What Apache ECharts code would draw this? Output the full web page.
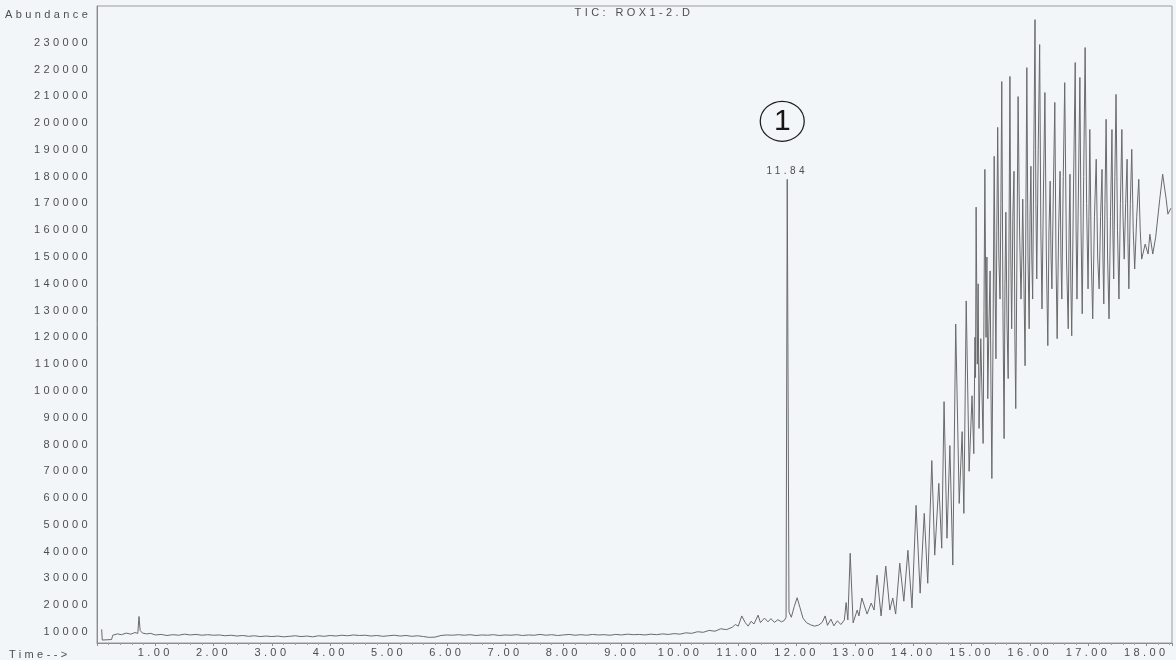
<!DOCTYPE html>
<html>
<head>
<meta charset="utf-8">
<script src="https://cdn.jsdelivr.net/npm/echarts@6/dist/echarts.min.js"></script>
<style>
  html, body { margin: 0; padding: 0; background: #f2f6f9; }
  #chart { width: 1176px; height: 660px; }
</style>
</head>
<body>
<div id="chart"></div>
<script>
// Report-style small print: widen the tracking of the small labels.
(function () {
  var proto = CanvasRenderingContext2D.prototype;
  if (!('letterSpacing' in proto)) return;
  var fill = proto.fillText;
  proto.fillText = function () {
    this.letterSpacing = /(^|\s)(9|10|11|12)px/.test(this.font) ? '3.4px' : '0px';
    return fill.apply(this, arguments);
  };
})();

// Total ion chromatogram, retention time in minutes
var chartTitle = 'TIC: ROX1-2.D';
var yAxisTitle = 'Abundance';
var xAxisTitle = 'Time-->';
var peakTime = 11.84;
var peakTag = '1';

var times = [
  0.08, 0.09, 0.25, 0.27, 0.35, 0.42, 0.50, 0.58, 0.65, 0.70, 0.72, 0.74, 0.78, 0.85, 0.92,
  1.00, 1.10, 1.20, 1.30, 1.40, 1.50, 1.60, 1.70, 1.80, 1.90,
  2.00, 2.10, 2.20, 2.30, 2.40, 2.50, 2.60, 2.70, 2.80, 2.90,
  3.00, 3.10, 3.20, 3.30, 3.40, 3.50, 3.60, 3.70, 3.80, 3.90,
  4.00, 4.10, 4.20, 4.30, 4.40, 4.50, 4.60, 4.70, 4.80, 4.90,
  5.00, 5.10, 5.20, 5.30, 5.40, 5.50, 5.60, 5.70, 5.80, 5.90,
  6.00, 6.10, 6.20, 6.30, 6.40, 6.50, 6.60, 6.70, 6.80, 6.90,
  7.00, 7.10, 7.20, 7.30, 7.40, 7.50, 7.60, 7.70, 7.80, 7.90,
  8.00, 8.10, 8.20, 8.30, 8.40, 8.50, 8.60, 8.70, 8.80, 8.90,
  9.00, 9.10, 9.20, 9.30, 9.40, 9.50, 9.60, 9.70, 9.80, 9.90,
  10.00, 10.10, 10.20, 10.30, 10.40, 10.50, 10.60, 10.70, 10.80, 10.90, 10.95,
  11.00, 11.06, 11.12, 11.17, 11.22, 11.27, 11.34, 11.38, 11.45, 11.51, 11.56, 11.62, 11.68, 11.74, 11.79, 11.82,
  11.84, 11.87, 11.91, 11.96,
  12.01, 12.06, 12.11, 12.17, 12.24, 12.31, 12.38, 12.44, 12.49, 12.53, 12.59, 12.64, 12.70, 12.76, 12.82, 12.85, 12.88, 12.92, 12.97,
  13.04, 13.07, 13.12, 13.21, 13.28, 13.33, 13.38, 13.45, 13.53, 13.60, 13.65, 13.70, 13.77, 13.84, 13.91, 13.98,
  14.05, 14.12, 14.19, 14.25, 14.32, 14.37, 14.44, 14.49, 14.53, 14.58, 14.63, 14.68, 14.73, 14.79, 14.84, 14.87, 14.91, 14.96,
  15.01, 15.04, 15.06, 15.07, 15.08, 15.10, 15.115, 15.13, 15.16, 15.18, 15.20, 15.215, 15.23, 15.25, 15.265, 15.28,
  15.30, 15.32, 15.335, 15.35, 15.37, 15.39, 15.405, 15.42, 15.435, 15.45, 15.47, 15.49, 15.505, 15.52, 15.54, 15.56,
  15.575, 15.59, 15.61, 15.63, 15.645, 15.66, 15.675, 15.69, 15.71, 15.73, 15.745, 15.76, 15.78, 15.80, 15.825, 15.85,
  15.865, 15.88, 15.90, 15.92, 15.935, 15.95, 15.97, 15.99,
  16.005, 16.02, 16.035, 16.05, 16.07, 16.09, 16.105, 16.12, 16.145, 16.17, 16.19, 16.21, 16.235, 16.26, 16.285, 16.31,
  16.33, 16.35, 16.365, 16.38, 16.405, 16.43, 16.45, 16.47, 16.495, 16.52, 16.535, 16.55, 16.575, 16.60, 16.63, 16.66,
  16.675, 16.69, 16.705, 16.72, 16.75, 16.78, 16.795, 16.81, 16.835, 16.86, 16.88, 16.90, 16.925, 16.95, 16.975,
  17.00, 17.015, 17.03, 17.055, 17.08, 17.11, 17.14, 17.165, 17.19, 17.215, 17.24, 17.255, 17.27, 17.29, 17.31, 17.335,
  17.36, 17.385, 17.41, 17.425, 17.44, 17.46, 17.48, 17.505, 17.53, 17.555, 17.58, 17.60, 17.62, 17.645, 17.67, 17.685,
  17.70, 17.725, 17.75, 17.775, 17.80, 17.835, 17.87, 17.895, 17.92, 17.98,
  18.03, 18.06, 18.11, 18.16, 18.23, 18.28, 18.34, 18.37, 18.42
];

var abundance = [
  11000, 7000, 7200, 8800, 9300, 9000, 9600, 9200, 9800, 9500, 15800, 10600, 9600, 9300, 9500,
  8900, 9100, 8700, 9000, 8800, 9200, 8900, 9100, 8800, 9000,
  8800, 8900, 8600, 8800, 8500, 8700, 8400, 8600, 8300, 8500,
  8300, 8500, 8200, 8400, 8600, 8300, 8500, 8200, 8600, 8400,
  8700, 8500, 8800, 8600, 8900, 8700, 8800, 8500, 8700, 8400,
  8600, 8800, 8500, 8700, 8400, 8600, 8300, 8000, 8100, 8700,
  8900, 8800, 9000, 8800, 9000, 8700, 8900, 8800, 9000, 8700,
  8900, 8800, 9000, 8700, 8900, 8800, 9100, 8800, 9000, 8700,
  8900, 9100, 8800, 9000, 8800, 9100, 8900, 9000, 8800, 9100,
  8900, 9200, 9000, 9100, 8900, 9200, 9000, 9300, 9100, 9400,
  9200, 9700, 9500, 10100, 9900, 10600, 10300, 11200, 10900, 11800, 12800,
  12200, 16000, 13500, 12200, 14000, 13000, 16300, 13500, 15200, 13800, 15000, 13600, 14600, 13800, 14300, 15500,
  179000, 17500, 15500, 19500,
  22800, 19000, 15200, 13500, 12700, 12200, 12600, 13600, 16000, 12500, 14800, 12300, 14200, 12800, 14500, 21000, 14500, 39400, 13400,
  18200, 16000, 22700, 16700, 20800, 18200, 31200, 16000, 34600, 18200, 22700, 16700, 35700, 21500, 40500, 19000,
  57300, 24500, 54300, 28200, 74000, 38700, 65500, 41300, 96000, 45000, 79600, 35000, 125000, 58000, 84800, 54300, 133600, 70000,
  98200, 76600, 120000, 105000, 168600, 110000, 140000, 86000, 119500, 100000, 80400, 130000, 182700, 120000, 150000, 97100,
  125000, 144800, 100000, 67300, 120000, 187600, 140000, 112000, 160000, 198400, 150000, 134300, 170000, 215500, 130000, 82200,
  140000, 166700, 125000, 104600, 160000, 217400, 150000, 123200, 165000, 182000, 120000, 93400, 150000, 209900, 160000, 134300,
  150000, 171600, 140000, 109400, 170000, 220700, 150000, 123200,
  165000, 183900, 150000, 134300, 190000, 238600, 170000, 141800, 190000, 229300, 160000, 130600, 175000, 211400, 150000, 116900,
  160000, 178300, 150000, 138100, 175000, 207700, 150000, 119500, 160000, 182000, 150000, 134300, 180000, 215100, 150000, 123200,
  160000, 180900, 140000, 120600, 175000, 222600, 160000, 134300, 175000, 217000, 160000, 128800, 180000, 228200, 170000,
  138100, 165000, 197600, 150000, 126900, 165000, 186500, 150000, 138100, 165000, 182700, 150000, 132500, 170000, 201400, 150000,
  126900, 165000, 197600, 160000, 141800, 180000, 210700, 160000, 134300, 170000, 197600, 165000, 149200, 170000, 186500, 155000,
  138100, 170000, 190200, 160000, 145500, 165000, 179000, 160000, 149200, 154800,
  151100, 158500, 151100, 157400, 171600, 180900, 171600, 166000, 168200
];

var yTickValues = [
  10000, 20000, 30000, 40000, 50000, 60000, 70000, 80000, 90000, 100000, 110000, 120000,
  130000, 140000, 150000, 160000, 170000, 180000, 190000, 200000, 210000, 220000, 230000
];

var series = times.map(function (t, i) { return [t, abundance[i]]; });
var peakIndex = times.indexOf(peakTime);
var peakPoint = series[peakIndex];

var textGrey = '#4e4e4e';
var axisGrey = '#8c8c8c';
var smallFont = 'Liberation Sans';

var chart = echarts.init(document.getElementById('chart'), null, { renderer: 'canvas' });

chart.setOption({
  backgroundColor: '#f2f6f9',
  animation: false,
  grid: {
    left: 97, right: 4, top: 6, bottom: 17,
    show: true, borderColor: '#9a9a9a', borderWidth: 1, backgroundColor: 'transparent'
  },
  xAxis: {
    type: 'value',
    min: 0,
    max: 18.44,
    interval: 1,
    axisLine: { show: true, lineStyle: { color: axisGrey, width: 1 } },
    axisTick: { show: true, length: 3, lineStyle: { color: axisGrey } },
    minorTick: { show: true, splitNumber: 5, length: 2, lineStyle: { color: '#a0a0a0' } },
    splitLine: { show: false },
    axisLabel: {
      fontSize: 11, fontFamily: smallFont, color: textGrey, margin: 4,
      formatter: function (v) {
        return (v >= 1 && Math.abs(v - Math.round(v)) < 1e-6) ? v.toFixed(2) : '';
      }
    }
  },
  yAxis: {
    type: 'value',
    min: 5900,
    max: 243700,
    axisLine: { show: true, lineStyle: { color: axisGrey, width: 1 } },
    axisTick: { show: false },
    splitLine: { show: false },
    axisLabel: {
      customValues: yTickValues,
      fontSize: 11, fontFamily: smallFont, color: textGrey, margin: 6,
      formatter: function (v) { return String(Math.round(v)); }
    }
  },
  graphic: [
    { type: 'text', left: 5, top: 9,
      style: { text: yAxisTitle, fontSize: 11, fontFamily: smallFont, fill: textGrey } },
    { type: 'text', left: 9, top: 649,
      style: { text: xAxisTitle, fontSize: 11, fontFamily: smallFont, fill: textGrey } },
    { type: 'text', x: 634, y: 13,
      style: { text: chartTitle, fontSize: 11, fontFamily: smallFont, fill: textGrey,
               align: 'center', verticalAlign: 'middle' } }
  ],
  series: [{
    type: 'line',
    data: series,
    showSymbol: false,
    symbol: 'none',
    lineStyle: { color: '#6a6a6a', width: 1 },
    markPoint: {
      silent: true,
      animation: false,
      data: [
        {
          coord: peakPoint,
          symbol: 'rect',
          symbolSize: 1,
          itemStyle: { color: 'rgba(0,0,0,0)' },
          label: {
            show: true, position: 'top', distance: 3,
            fontSize: 10, fontFamily: smallFont, color: textGrey,
            formatter: function () { return peakPoint[0].toFixed(2); }
          }
        },
        {
          coord: peakPoint,
          symbol: 'circle',
          symbolSize: [44, 40],
          symbolOffset: [-5, -58],
          itemStyle: { color: 'rgba(0,0,0,0)', borderColor: '#1e1e1e', borderWidth: 1.2 },
          label: {
            show: true, position: 'inside',
            fontSize: 30, fontFamily: smallFont, color: '#151515',
            formatter: function () { return peakTag; }
          }
        }
      ]
    }
  }]
});
</script>
</body>
</html>
